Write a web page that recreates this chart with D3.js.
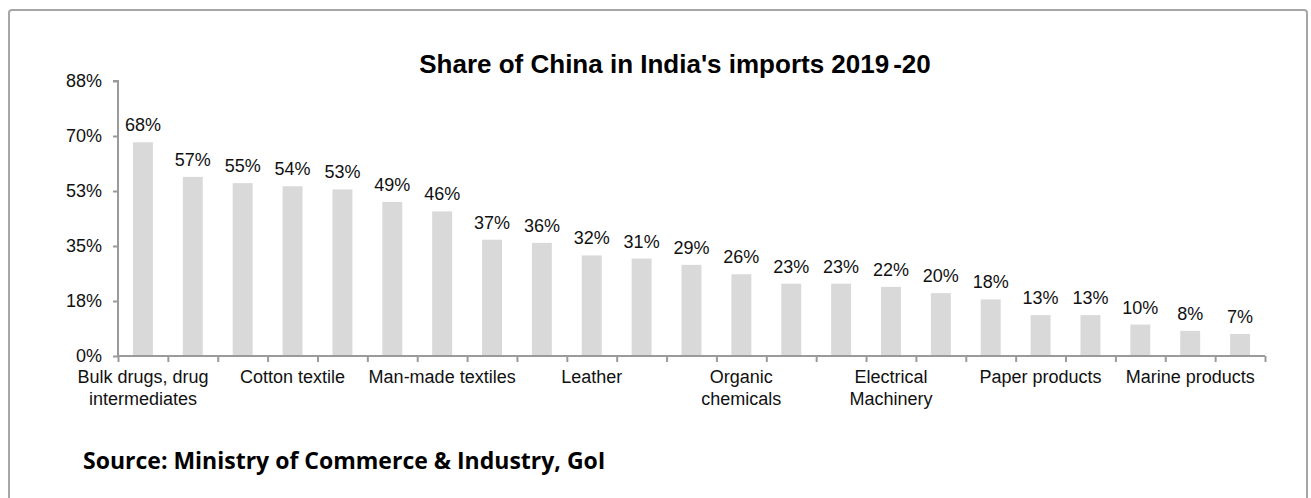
<!DOCTYPE html>
<html><head><meta charset="utf-8">
<script src="https://cdn.jsdelivr.net/npm/d3@7"></script>
<style>body{margin:0;background:#fff}svg{display:block}</style>
</head><body>
<svg id="c" width="1311" height="498"></svg>
<script>
// Data
const categories = ["Bulk drugs, drug intermediates","","","Cotton textile","","","Man-made textiles","","","Leather","","","Organic chemicals","","","Electrical Machinery","","","Paper products","","","Marine products",""];
const categoryLines = [["Bulk drugs, drug","intermediates"],[],[],["Cotton textile"],[],[],["Man-made textiles"],[],[],["Leather"],[],[],["Organic","chemicals"],[],[],["Electrical","Machinery"],[],[],["Paper products"],[],[],["Marine products"],[]];
const values = [68,57,55,54,53,49,46,37,36,32,31,29,26,23,23,22,20,18,13,13,10,8,7];
const yTicks = [0,17.5,35,52.5,70,87.5];
const title = "Share of China in India's imports 2019-20";
const source = "Source: Ministry of Commerce & Industry, GoI";

const svg = d3.select("#c");
svg.append("rect").attr("x",9).attr("y",10).attr("width",1298).attr("height",500)
  .attr("fill","#fff").attr("stroke","#a6a6a6").attr("stroke-width",2).attr("rx",3);

const pLeft=118,pRight=1265,pTop=81,pBottom=356;
const idx = values.map((d,i)=>i);
const x = d3.scaleBand().domain(idx).range([pLeft,pRight]).paddingInner(0.6).paddingOuter(0.3);
const y = d3.scaleLinear().domain([0,87.5]).range([pBottom,pTop]);
const axisColor="#9a9a9a";
const FONT="Liberation Sans, Arial, sans-serif";

// bars
svg.append("g").selectAll("rect").data(values).join("rect")
  .attr("x",(d,i)=>x(i)).attr("width",x.bandwidth())
  .attr("y",d=>y(d)).attr("height",d=>pBottom-y(d)).attr("fill","#d9d9d9");

// value labels
svg.append("g").selectAll("text").data(values).join("text")
  .attr("x",(d,i)=>x(i)+x.bandwidth()/2).attr("y",d=>y(d)-11)
  .attr("text-anchor","middle").attr("font-family",FONT)
  .attr("font-size",18).attr("fill","#111").text(d=>d+"%");

// y axis
const ya = svg.append("g").attr("transform",`translate(${pLeft},0)`)
  .call(d3.axisLeft(y).tickValues(yTicks).tickSize(5).tickPadding(11).tickFormat(d=>Math.round(d)+"%"));
ya.select(".domain").attr("stroke",axisColor).attr("stroke-width",2).attr("d",`M-5,${pTop}H0V${pBottom}`);
ya.selectAll(".tick line").attr("stroke",axisColor).attr("stroke-width",2);
ya.selectAll(".tick text").attr("font-family",FONT).attr("font-size",18).attr("fill","#111");

// x axis with tick marks at band boundaries
const xb = d3.scaleLinear().domain([0,values.length]).range([pLeft,pRight]);
const xa = svg.append("g").attr("transform",`translate(0,${pBottom})`)
  .call(d3.axisBottom(xb).tickValues(d3.range(values.length+1)).tickSize(6).tickFormat(""));
xa.select(".domain").attr("stroke",axisColor).attr("stroke-width",2).attr("d",`M${pLeft},0H${pRight}`);
xa.selectAll(".tick line").attr("stroke",axisColor).attr("stroke-width",2);

// category labels
const cl = svg.append("g").selectAll("text").data(categoryLines).join("text")
  .attr("x",(d,i)=>x(i)+x.bandwidth()/2).attr("y",383)
  .attr("text-anchor","middle").attr("font-family",FONT)
  .attr("font-size",18).attr("fill","#111");
cl.each(function(d,i){
  const t=d3.select(this);
  d.forEach((line,j)=>t.append("tspan").attr("x",x(i)+x.bandwidth()/2).attr("dy",j?22:0).text(line));
});

// title
const tt = svg.append("text").attr("x",675).attr("y",73).attr("text-anchor","middle")
  .attr("font-family",FONT).attr("font-weight","bold")
  .attr("font-size",26).attr("fill","#000");
tt.append("tspan").text(title.slice(0,title.length-3));
tt.append("tspan").attr("dx",4).text(title.slice(title.length-3));

// source
svg.append("text").attr("x",83).attr("y",469)
  .attr("font-family","Open Sans, Noto Sans, sans-serif").attr("font-weight","bold")
  .attr("font-size",23).attr("fill","#000").text(source);
</script>
</body></html>
